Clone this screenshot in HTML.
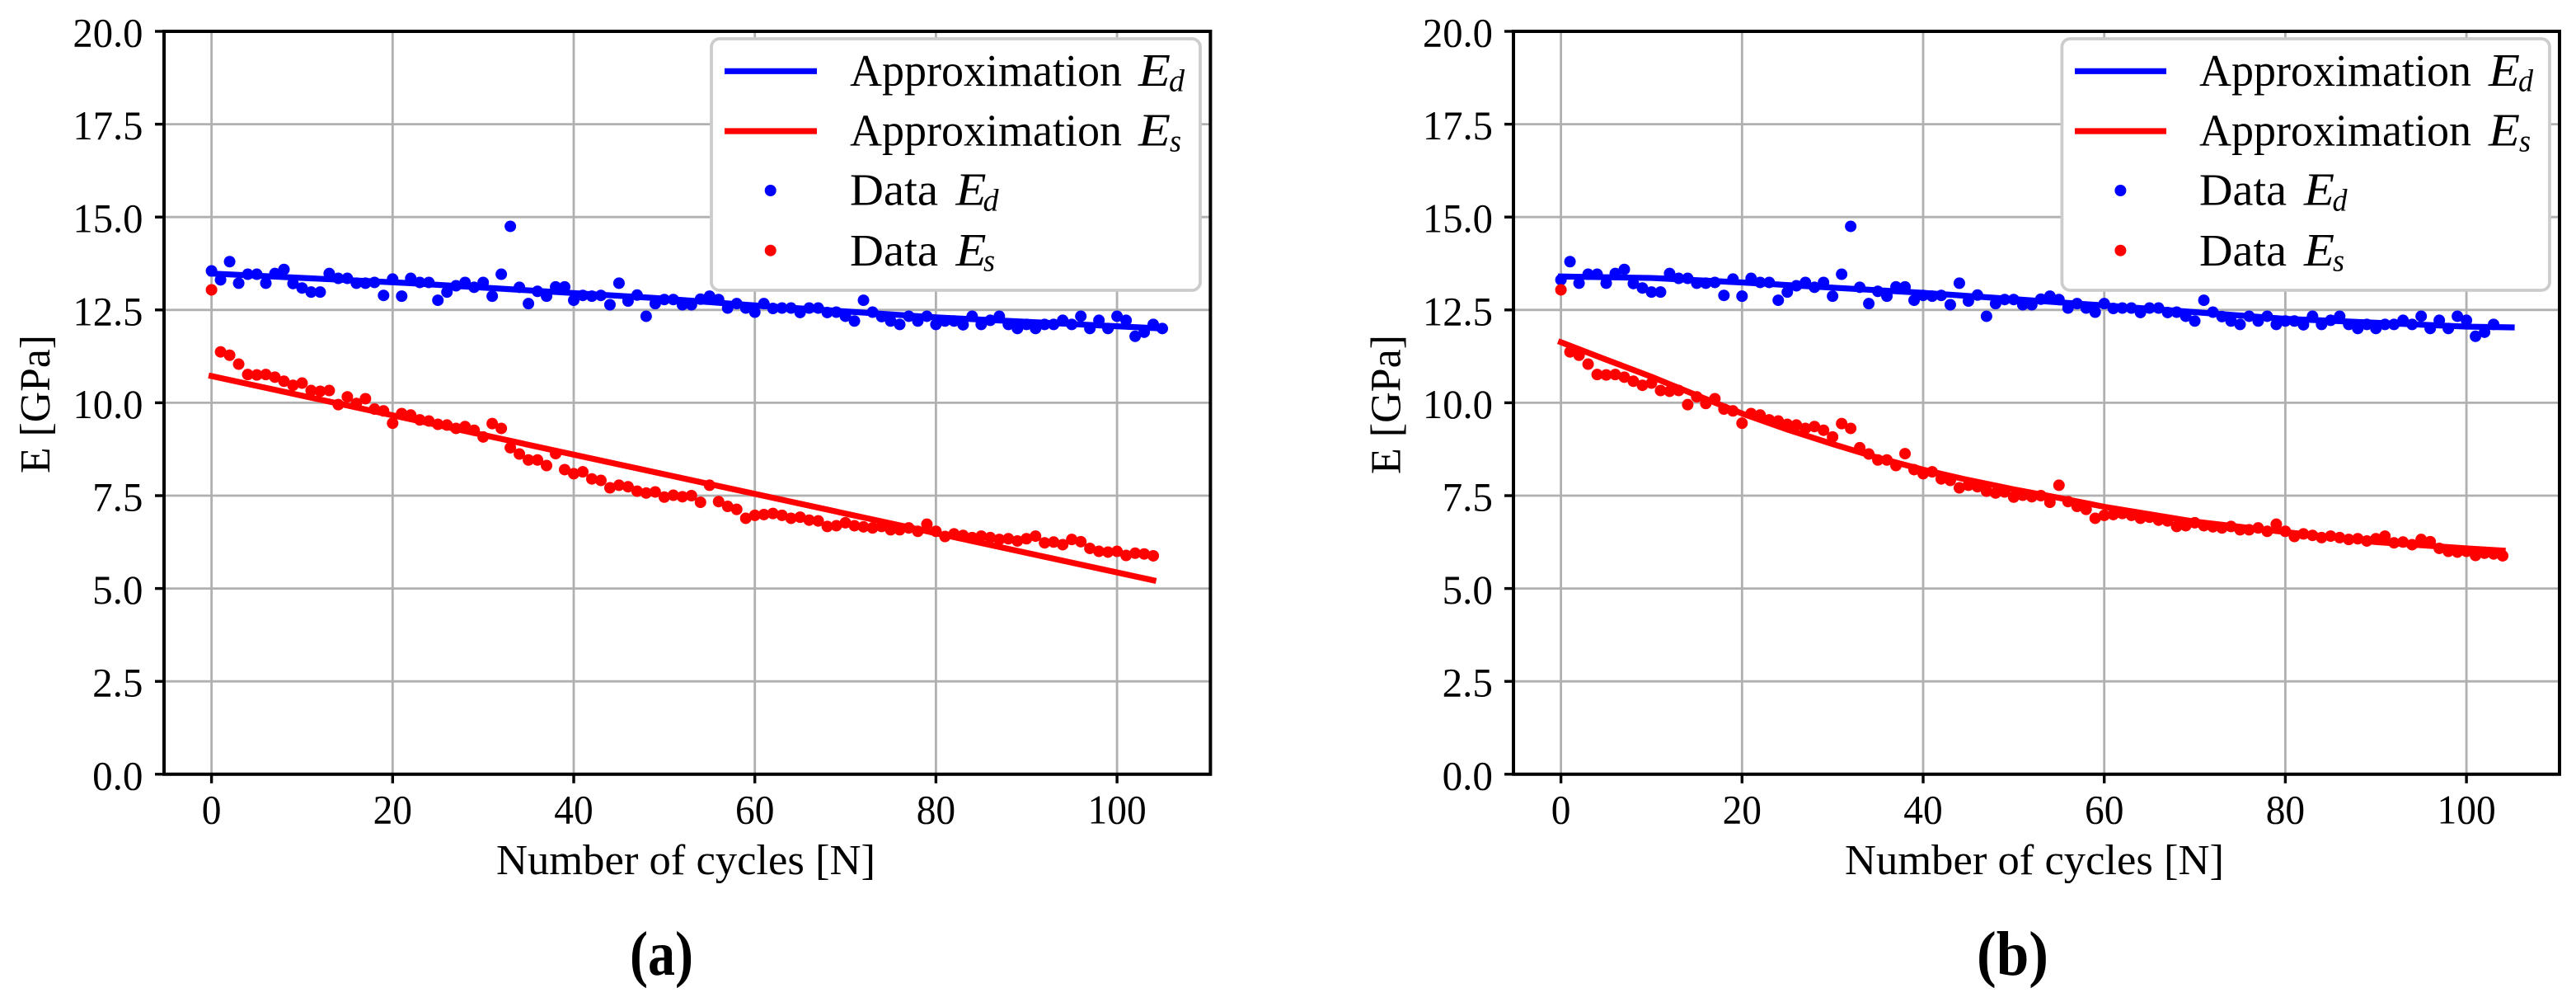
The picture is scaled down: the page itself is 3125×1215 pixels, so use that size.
<!DOCTYPE html>
<html lang="en">
<head>
<meta charset="utf-8">
<title>E modulus versus number of cycles</title>
<style>
html,body{margin:0;padding:0;background:#fff;}
body{width:3125px;height:1215px;overflow:hidden;}
svg{display:block;}
text{font-family:"Liberation Serif",serif;fill:#000;}
.leg{font-size:55px;}
.sym{font-size:56px;font-style:italic;}
.sub{font-size:38px;font-style:italic;}
.axt{font-size:52px;}
.tick{font-size:50px;}
.cap{font-size:76px;font-weight:bold;}
</style>
</head>
<body>
<svg id="figure" xmlns="http://www.w3.org/2000/svg" width="3125" height="1215" viewBox="0 0 3125 1215">
  <rect x="0" y="0" width="3125" height="1215" fill="#fff"/>
  <g id="panel-a"></g>
  <g id="panel-b"></g>

  <text class="axt" transform="translate(60,574) rotate(-90)" textLength="168" lengthAdjust="spacingAndGlyphs">E [GPa]</text>
  <text class="axt" x="602" y="1060" textLength="460" lengthAdjust="spacingAndGlyphs">Number of cycles [N]</text>
  <text class="cap" x="764" y="1182" textLength="77" lengthAdjust="spacingAndGlyphs">(a)</text>

  <text class="axt" transform="translate(1698.7,575) rotate(-90)" textLength="169" lengthAdjust="spacingAndGlyphs">E [GPa]</text>
  <text class="axt" x="2238" y="1060" textLength="460" lengthAdjust="spacingAndGlyphs">Number of cycles [N]</text>
  <text class="cap" x="2398" y="1182" textLength="87" lengthAdjust="spacingAndGlyphs">(b)</text>

  <g>
    <rect x="863" y="47" width="593" height="305" rx="10" ry="10" fill="#fff" stroke="#cccccc" stroke-width="3.8"/>
    <g>
      <line x1="879" y1="86.3" x2="991" y2="86.3" stroke="#0000ff" stroke-width="7.2"/>
      <text class="leg" x="1031" y="104" textLength="330" lengthAdjust="spacingAndGlyphs">Approximation</text>
      <text class="sym" x="1381" y="104" textLength="39" lengthAdjust="spacingAndGlyphs">E</text>
      <text class="sub" x="1418" y="110.7" textLength="19" lengthAdjust="spacingAndGlyphs">d</text>
    </g>
    <g>
      <line x1="879" y1="159" x2="991" y2="159" stroke="#ff0000" stroke-width="7.2"/>
      <text class="leg" x="1031" y="176.7" textLength="330" lengthAdjust="spacingAndGlyphs">Approximation</text>
      <text class="sym" x="1381" y="176.7" textLength="39" lengthAdjust="spacingAndGlyphs">E</text>
      <text class="sub" x="1419" y="183.4" textLength="14" lengthAdjust="spacingAndGlyphs">s</text>
    </g>
    <g>
      <circle cx="934.7" cy="231" r="7" fill="#0000ff"/>
      <text class="leg" x="1031" y="248.7" textLength="107" lengthAdjust="spacingAndGlyphs">Data</text>
      <text class="sym" x="1159.5" y="248.7" textLength="37" lengthAdjust="spacingAndGlyphs">E</text>
      <text class="sub" x="1192.5" y="255.4" textLength="19" lengthAdjust="spacingAndGlyphs">d</text>
    </g>
    <g>
      <circle cx="934.7" cy="303.7" r="7" fill="#ff0000"/>
      <text class="leg" x="1031" y="322" textLength="107" lengthAdjust="spacingAndGlyphs">Data</text>
      <text class="sym" x="1159.5" y="322" textLength="37" lengthAdjust="spacingAndGlyphs">E</text>
      <text class="sub" x="1193" y="328.7" textLength="14" lengthAdjust="spacingAndGlyphs">s</text>
    </g>
  </g>

  <g>
    <rect x="2501.4" y="47" width="591.6" height="305" rx="10" ry="10" fill="#fff" stroke="#cccccc" stroke-width="3.8"/>
    <g>
      <line x1="2517" y1="86.3" x2="2628" y2="86.3" stroke="#0000ff" stroke-width="7.2"/>
      <text class="leg" x="2668" y="104" textLength="330" lengthAdjust="spacingAndGlyphs">Approximation</text>
      <text class="sym" x="3019" y="104" textLength="38" lengthAdjust="spacingAndGlyphs">E</text>
      <text class="sub" x="3055" y="110.7" textLength="18" lengthAdjust="spacingAndGlyphs">d</text>
    </g>
    <g>
      <line x1="2517" y1="159" x2="2628" y2="159" stroke="#ff0000" stroke-width="7.2"/>
      <text class="leg" x="2668" y="176.7" textLength="330" lengthAdjust="spacingAndGlyphs">Approximation</text>
      <text class="sym" x="3019" y="176.7" textLength="38" lengthAdjust="spacingAndGlyphs">E</text>
      <text class="sub" x="3056" y="183.4" textLength="14" lengthAdjust="spacingAndGlyphs">s</text>
    </g>
    <g>
      <circle cx="2572.4" cy="231" r="7" fill="#0000ff"/>
      <text class="leg" x="2668" y="248.7" textLength="106" lengthAdjust="spacingAndGlyphs">Data</text>
      <text class="sym" x="2795" y="248.7" textLength="37" lengthAdjust="spacingAndGlyphs">E</text>
      <text class="sub" x="2829.5" y="255.4" textLength="18" lengthAdjust="spacingAndGlyphs">d</text>
    </g>
    <g>
      <circle cx="2572.4" cy="303.7" r="7" fill="#ff0000"/>
      <text class="leg" x="2668" y="322" textLength="106" lengthAdjust="spacingAndGlyphs">Data</text>
      <text class="sym" x="2795" y="322" textLength="37" lengthAdjust="spacingAndGlyphs">E</text>
      <text class="sub" x="2830" y="328.7" textLength="14" lengthAdjust="spacingAndGlyphs">s</text>
    </g>
  </g>
</svg>
<script>
const xTicks = [0, 20, 40, 60, 80, 100];
const xTickLabels = ['0', '20', '40', '60', '80', '100'];
const yTicks = [0, 2.5, 5, 7.5, 10, 12.5, 15, 17.5, 20];
const yTickLabels = ['0.0', '2.5', '5.0', '7.5', '10.0', '12.5', '15.0', '17.5', '20.0'];

const dataEdA = [13.55,13.31,13.80,13.22,13.46,13.46,13.22,13.48,13.59,13.21,13.09,12.98,12.98,13.48,13.35,13.35,13.22,13.22,13.24,12.89,13.33,12.87,13.35,13.24,13.24,12.76,12.98,13.15,13.24,13.11,13.24,12.87,13.46,14.75,13.11,12.67,13.00,12.87,13.12,13.12,12.76,12.89,12.87,12.89,12.64,13.22,12.74,12.90,12.33,12.67,12.78,12.78,12.64,12.64,12.79,12.87,12.78,12.55,12.67,12.55,12.44,12.67,12.54,12.55,12.55,12.43,12.55,12.55,12.43,12.44,12.33,12.20,12.76,12.44,12.32,12.20,12.11,12.33,12.20,12.33,12.11,12.20,12.20,12.10,12.33,12.11,12.22,12.33,12.11,12.00,12.11,12.00,12.11,12.11,12.22,12.11,12.33,12.00,12.22,12.00,12.33,12.22,11.79,11.90,12.11,12.00];
const dataEdB = [13.31,13.80,13.22,13.46,13.46,13.22,13.48,13.59,13.21,13.09,12.98,12.98,13.48,13.35,13.35,13.22,13.22,13.24,12.89,13.33,12.87,13.35,13.24,13.24,12.76,12.98,13.15,13.24,13.11,13.24,12.87,13.46,14.75,13.11,12.67,13.00,12.87,13.12,13.12,12.76,12.89,12.87,12.89,12.64,13.22,12.74,12.90,12.33,12.67,12.78,12.78,12.64,12.64,12.79,12.87,12.78,12.55,12.67,12.55,12.44,12.67,12.54,12.55,12.55,12.43,12.55,12.55,12.43,12.44,12.33,12.20,12.76,12.44,12.32,12.20,12.11,12.33,12.20,12.33,12.11,12.20,12.20,12.10,12.33,12.11,12.22,12.33,12.11,12.00,12.11,12.00,12.11,12.11,12.22,12.11,12.33,12.00,12.22,12.00,12.33,12.22,11.79,11.90,12.11];
const dataEsA = [13.04,11.37,11.28,11.04,10.76,10.75,10.76,10.69,10.58,10.47,10.53,10.33,10.31,10.33,9.95,10.16,9.98,10.11,9.83,9.78,9.45,9.71,9.67,9.54,9.51,9.42,9.40,9.31,9.36,9.26,9.08,9.44,9.31,8.79,8.62,8.46,8.46,8.31,8.63,8.20,8.09,8.14,7.95,7.91,7.71,7.78,7.74,7.62,7.57,7.60,7.46,7.51,7.47,7.50,7.32,7.78,7.34,7.21,7.13,6.89,6.97,6.99,7.02,6.97,6.89,6.92,6.84,6.82,6.67,6.69,6.77,6.69,6.66,6.63,6.67,6.58,6.58,6.63,6.54,6.73,6.54,6.40,6.47,6.43,6.37,6.41,6.37,6.32,6.34,6.28,6.34,6.41,6.23,6.25,6.18,6.32,6.26,6.08,6.00,5.98,6.00,5.89,5.95,5.93,5.88];
const dataEsB = [13.04,11.37,11.28,11.04,10.76,10.75,10.76,10.69,10.58,10.47,10.53,10.33,10.31,10.33,9.95,10.16,9.98,10.11,9.83,9.78,9.45,9.71,9.67,9.54,9.51,9.42,9.40,9.31,9.36,9.26,9.08,9.44,9.31,8.79,8.62,8.46,8.46,8.31,8.63,8.20,8.09,8.14,7.95,7.91,7.71,7.78,7.74,7.62,7.57,7.60,7.46,7.51,7.47,7.50,7.32,7.78,7.34,7.21,7.13,6.89,6.97,6.99,7.02,6.97,6.89,6.92,6.84,6.82,6.67,6.69,6.77,6.69,6.66,6.63,6.67,6.58,6.58,6.63,6.54,6.73,6.54,6.40,6.47,6.43,6.37,6.41,6.37,6.32,6.34,6.28,6.34,6.41,6.23,6.25,6.18,6.32,6.26,6.08,6.00,5.98,6.00,5.89,5.95,5.93,5.88];

const fitEdACycles = [0, 22, 49, 60, 80, 105];
const fitEdAValues = [13.48, 13.22, 12.82, 12.62, 12.30, 12.00];
const fitEsACycles = [0, 104];
const fitEsAValues = [10.72, 5.22];
const fitEdBCycles = [0, 10, 20, 40, 60, 80, 100, 105];
const fitEdBValues = [13.40, 13.36, 13.24, 12.96, 12.62, 12.26, 12.05, 12.03];
const fitEsBCycles = [0, 5, 10, 15, 20, 25, 30, 35, 40, 45, 50, 55, 60, 70, 80, 90, 100, 104];
const fitEsBValues = [11.63, 11.16, 10.70, 10.20, 9.71, 9.28, 8.89, 8.52, 8.20, 7.92, 7.67, 7.44, 7.20, 6.80, 6.52, 6.25, 6.08, 6.02];

const SVGNS = 'http://www.w3.org/2000/svg';
const PX_PER_CYCLE = 10.985;
const PX_PER_GPA = 45.04;
const Y_ZERO = 938.8;
const Y_TOP = 38;
const BLUE = '#0000ff';
const RED = '#ff0000';
const GRID = '#b0b0b0';

function yScale(v) { return Y_ZERO - PX_PER_GPA * v; }

function makeXScale(zeroPx) {
  return function (v) { return zeroPx + PX_PER_CYCLE * v; };
}

function labelWidth(s) {
  let w = 0;
  for (const ch of s) { w += ch === '.' ? 14 : 23.7; }
  return w;
}

function svgEl(tag, attrs, parent) {
  const el = document.createElementNS(SVGNS, tag);
  for (const k in attrs) { el.setAttribute(k, attrs[k]); }
  parent.appendChild(el);
  return el;
}

function drawPanel(group, zeroPx, leftPx, rightPx, labelRight, seriesEd, seriesEs, fitEdX, fitEdY, fitEsX, fitEsY) {
  const xScale = makeXScale(zeroPx);

  xTicks.forEach(function (t) {
    const gl = svgEl('line', { x1: xScale(t), x2: xScale(t), y1: Y_TOP, y2: Y_ZERO, stroke: GRID, 'stroke-width': 2.8 }, group);
    
    
  });
  yTicks.forEach(function (t) {
    const gl = svgEl('line', { x1: leftPx, x2: rightPx, y1: yScale(t), y2: yScale(t), stroke: GRID, 'stroke-width': 2.8 }, group);
    
    
  });

  const fitEd = svgEl('polyline', {
    points: fitEdX.map(function (c, i) { return xScale(c) + ',' + yScale(fitEdY[i]); }).join(' '),
    fill: 'none', stroke: BLUE, 'stroke-width': 7.2, 'stroke-linecap': 'square', 'stroke-linejoin': 'round'
  }, group);
  
  

  const fitEs = svgEl('polyline', {
    points: fitEsX.map(function (c, i) { return xScale(c) + ',' + yScale(fitEsY[i]); }).join(' '),
    fill: 'none', stroke: RED, 'stroke-width': 7.2, 'stroke-linecap': 'square', 'stroke-linejoin': 'round'
  }, group);
  
  

  seriesEd.forEach(function (v, i) {
    const p = svgEl('circle', { cx: xScale(i), cy: yScale(v), r: 7, fill: BLUE }, group);
    
    
  });
  seriesEs.forEach(function (v, i) {
    const p = svgEl('circle', { cx: xScale(i), cy: yScale(v), r: 7, fill: RED }, group);
    
    
  });

  xTicks.forEach(function (t, i) {
    const mark = svgEl('line', { x1: xScale(t), x2: xScale(t), y1: Y_ZERO, y2: Y_ZERO + 11, stroke: '#000', 'stroke-width': 3.4 }, group);
    
    
    const w = labelWidth(xTickLabels[i]);
    const lab = svgEl('text', { x: xScale(t) - w / 2, y: 998.4, class: 'tick', textLength: w, lengthAdjust: 'spacingAndGlyphs' }, group);
    lab.textContent = xTickLabels[i];
    
    
  });
  yTicks.forEach(function (t, i) {
    const mark = svgEl('line', { x1: leftPx - 11, x2: leftPx, y1: yScale(t), y2: yScale(t), stroke: '#000', 'stroke-width': 3.4 }, group);
    
    
    const w = labelWidth(yTickLabels[i]);
    const lab = svgEl('text', { x: labelRight - w, y: yScale(t) + 18.5, class: 'tick', textLength: w, lengthAdjust: 'spacingAndGlyphs' }, group);
    lab.textContent = yTickLabels[i];
    
    
  });

  const frame = svgEl('rect', { x: leftPx, y: Y_TOP, width: rightPx - leftPx, height: Y_ZERO - Y_TOP, fill: 'none', stroke: '#000', 'stroke-width': 4 }, group);
  
  
}

drawPanel(document.getElementById('panel-a'), 256.6, 199, 1468.4, 173.5, dataEdA, dataEsA, fitEdACycles, fitEdAValues, fitEsACycles, fitEsAValues);
drawPanel(document.getElementById('panel-b'), 1893.6, 1836, 3105, 1811, dataEdB, dataEsB, fitEdBCycles, fitEdBValues, fitEsBCycles, fitEsBValues);
</script>
</body>
</html>
